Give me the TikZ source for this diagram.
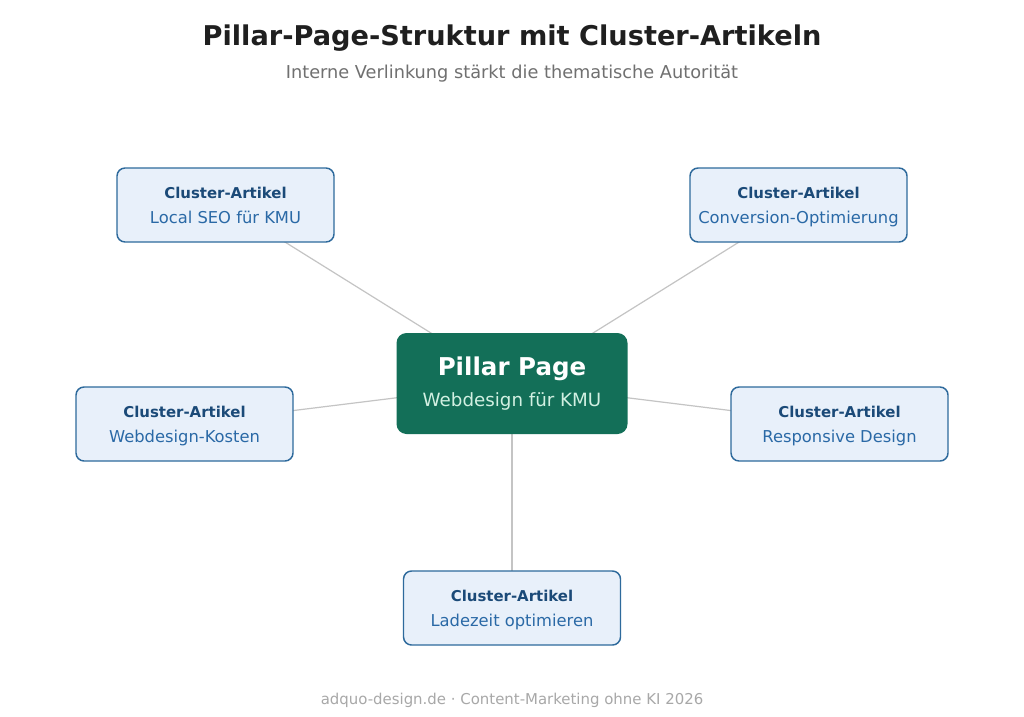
\documentclass[tikz,border=0pt]{standalone}
\usepackage{fontspec}
\setmainfont{DejaVu Sans}
\usetikzlibrary{backgrounds}

\definecolor{pillarfill}{HTML}{136F58}
\definecolor{pillarsub}{HTML}{D2F0E2}
\definecolor{clusterfill}{HTML}{E8F0FA}
\definecolor{clusterdraw}{HTML}{2E6A9C}
\definecolor{clusterhead}{HTML}{1B4A78}
\definecolor{clustertext}{HTML}{2A69A6}
\definecolor{linkgray}{HTML}{C4C4C4}
\definecolor{titlegray}{HTML}{1F1F1F}
\definecolor{subgray}{HTML}{707070}
\definecolor{footgray}{HTML}{A8A8A8}

\tikzset{
  cluster/.style={draw=clusterdraw, line width=1.1pt, fill=clusterfill,
    rounded corners=6pt, minimum width=162.75pt, minimum height=55.5pt,
    align=center, text=clustertext, font=\fontsize{12.25}{18.75}\selectfont},
  pillar/.style={fill=pillarfill, rounded corners=7.5pt,
    minimum width=173.25pt, minimum height=75.75pt, align=center,
    text=pillarsub, font=\fontsize{13.7}{23}\selectfont},
  link/.style={draw=linkgray, line width=0.9pt}
}
\newcommand{\clhead}{{\color{clusterhead}\fontsize{11.2}{18.75}\selectfont\bfseries\rule{0pt}{12pt}Cluster-Artikel}}

\begin{document}
\begin{tikzpicture}[x=0.75pt, y=-0.75pt]
	\useasboundingbox (0,0) rectangle (1024,717);

	% --- titles ---
	\node[text=titlegray, font=\fontsize{20.4}{25}\selectfont\bfseries] (title) at (512,38.5) {Pillar-Page-Struktur mit Cluster-Artikeln};
	\node[text=subgray, font=\fontsize{13.3}{15}\selectfont] (subtitle) at (512,74) {Interne Verlinkung stärkt die thematische Autorität};

	% --- pillar in the middle ---
	\node[pillar] (pillar) at (512,383.5) {{\color{white}\fontsize{18.4}{23}\selectfont\bfseries Pillar Page}\\ Webdesign für KMU};

	% --- cluster articles ---
	\node[cluster] (local) at (225.5,205) {\clhead\\ Local SEO für KMU\vphantom{g}};
	\node[cluster] (conversion) at (798.5,205) {\clhead\\ Conversion-Optimierung};
	\node[cluster] (kosten) at (184.5,424) {\clhead\\ Webdesign-Kosten};
	\node[cluster] (responsive) at (839.5,424) {\clhead\\ Responsive Design};
	\node[cluster] (ladezeit) at (512,608) {\clhead\\ Ladezeit optimieren};

	% --- white page and links behind the boxes ---
	\begin{pgfonlayer}{background}
		\fill[white] (0,0) rectangle (1024,717);
		\foreach \c in {local,conversion,kosten,responsive,ladezeit}
			\draw[link] (pillar.center) -- (\c.center);
	\end{pgfonlayer}

	\node[text=footgray, font=\fontsize{11.2}{13}\selectfont] (footer) at (512,700) {adquo-design.de · Content-Marketing ohne KI 2026};
\end{tikzpicture}
\end{document}
